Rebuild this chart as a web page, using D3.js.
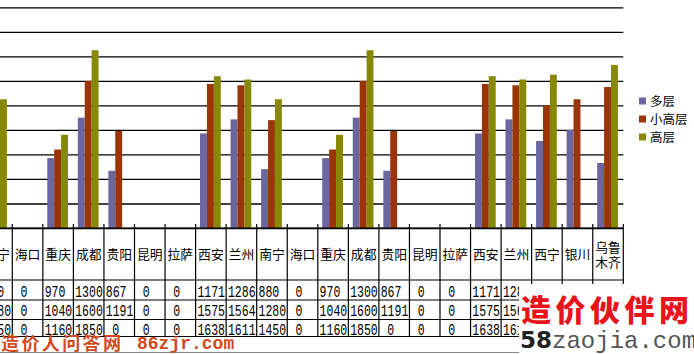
<!DOCTYPE html>
<html>
<head>
<meta charset="utf-8">
<script src="https://cdn.jsdelivr.net/npm/d3@7"></script>
<style>
body { margin: 0; background: #fff; }
svg { display: block; }
</style>
</head>
<body>
<svg width="694" height="354"></svg>
<script>
// data (left column is cut off)
const cities = ["南宁", "海口", "重庆", "成都", "贵阳", "昆明", "拉萨", "西安", "兰州",
                "南宁", "海口", "重庆", "成都", "贵阳", "昆明", "拉萨", "西安", "兰州",
                "西宁", "银川", "乌鲁木齐"];
const seriesNames = ["多层", "小高层", "高层"];
const duoceng     = [880, 0, 970, 1300, 867, 0, 0, 1171, 1286, 880, 0, 970, 1300, 867, 0, 0, 1171, 1286, 1110, 1200, 930];
const xiaogaoceng = [1280, 0, 1040, 1600, 1191, 0, 0, 1575, 1564, 1280, 0, 1040, 1600, 1191, 0, 0, 1575, 1564, 1400, 1450, 1550];
const gaoceng     = [1450, 0, 1160, 1850, 0, 0, 0, 1638, 1611, 1450, 0, 1160, 1850, 0, 0, 0, 1638, 1611, 1650, 0, 1730];
const yTicks = [400, 600, 800, 1000, 1200, 1400, 1600, 1800, 2000, 2200];

const colors = ["#6b679e", "#993508", "#878708"];
const seriesValues = [duoceng, xiaogaoceng, gaoceng];

const svg = d3.select("svg");

const plotRight = 623.3, plotBottom = 228;

const y = d3.scaleLinear()
    .domain([400, 2200])
    .range([plotBottom, 7.3]);

const x0 = d3.scaleBand()
    .domain(d3.range(cities.length))
    .range([-18.25, plotRight]);

const x1 = d3.scaleBand()
    .domain(seriesNames)
    .range([0, x0.bandwidth()])
    .paddingOuter(0.71)
    .align(0.45);

// horizontal gridlines
const grid = svg.append("g")
    .call(d3.axisLeft(y).tickValues(yTicks).tickSize(-plotRight).tickFormat(""));
grid.select(".domain").remove();
grid.selectAll(".tick line").attr("stroke", "#000").attr("stroke-width", 1.3);

// bars
const groups = svg.selectAll(".city")
    .data(cities)
    .enter().append("g")
    .attr("class", "city")
    .attr("transform", function(d, i) { return "translate(" + x0(i) + ",0)"; });

groups.selectAll("rect")
    .data(function(d, i) {
        return seriesNames.map(function(s, k) { return {key: s, value: seriesValues[k][i], color: colors[k]}; });
    })
    .enter().append("rect")
    .filter(function(d) { return d.value > 400; })
    .attr("x", function(d) { return x1(d.key); })
    .attr("width", x1.bandwidth())
    .attr("y", function(d) { return y(d.value); })
    .attr("height", function(d) { return plotBottom - y(d.value); })
    .attr("fill", function(d) { return d.color; });

// data table
const rowLines = [228, 280, 300, 319.5, 336.5];
const rowBase = [296.5, 316, 335];
const colEdges = d3.range(cities.length + 1).map(function(i) { return x0.range()[0] + i * x0.step(); });

const table = svg.append("g");
table.selectAll(".hline")
    .data(rowLines)
    .enter().append("line")
    .attr("x1", 0).attr("x2", plotRight)
    .attr("y1", function(d) { return d; }).attr("y2", function(d) { return d; })
    .attr("stroke", "#000").attr("stroke-width", 1.2);
table.selectAll(".vline")
    .data(colEdges)
    .enter().append("line")
    .attr("x1", function(d) { return d; }).attr("x2", function(d) { return d; })
    .attr("y1", 224).attr("y2", rowLines[rowLines.length - 1])
    .attr("stroke", "#000").attr("stroke-width", 1.2);

const headers = table.selectAll(".head")
    .data(cities)
    .enter().append("text")
    .attr("x", function(d, i) { return x0(i) + x0.bandwidth() / 2; })
    .attr("text-anchor", "middle")
    .attr("font-family", "Noto Sans CJK SC")
    .attr("font-size", "12.8px")
    .attr("fill", "#000");
headers.each(function(d) {
    const t = d3.select(this);
    if (d.length > 2) {
        t.append("tspan").attr("x", t.attr("x")).attr("y", 251.5).text(d.slice(0, 2));
        t.append("tspan").attr("x", t.attr("x")).attr("y", 267).text(d.slice(2));
    } else {
        t.attr("y", 258.5).text(d);
    }
});

// digits are tall and narrow in the picture, so stretch them a bit
seriesValues.forEach(function(vals, k) {
    const row = table.append("g")
        .attr("transform", "translate(0," + rowBase[k] + ") scale(1,1.4)");
    row.selectAll("text")
        .data(vals)
        .enter().append("text")
        .attr("x", function(d, i) { return d === 0 ? x0(i) + x0.bandwidth() / 2 - 3.5 : x0(i) + 1.8; })
        .attr("y", 0)
        .attr("text-anchor", function(d) { return d === 0 ? "middle" : "start"; })
        .attr("font-family", "Liberation Mono")
        .attr("font-size", "11.5px")
        .attr("fill", "#000")
        .text(function(d) { return d; });
});

// legend
const legend = svg.selectAll(".legend")
    .data(seriesNames)
    .enter().append("g")
    .attr("transform", function(d, i) { return "translate(639," + (101 + i * 18) + ")"; });
legend.append("rect")
    .attr("x", 0).attr("y", -3.5)
    .attr("width", 7).attr("height", 7)
    .attr("fill", function(d, i) { return colors[i]; });
legend.append("text")
    .attr("x", 11).attr("y", 4.5)
    .attr("font-family", "Noto Sans CJK SC")
    .attr("font-size", "12.5px")
    .attr("fill", "#000")
    .text(function(d) { return d; });

// watermarks baked into the picture
svg.append("line")
    .attr("x1", 0).attr("x2", 520).attr("y1", 352.5).attr("y2", 352.5)
    .attr("stroke", "#888").attr("stroke-width", 1);
svg.append("text")
    .attr("x", 1).attr("y", 350)
    .attr("font-family", "Noto Sans CJK SC")
    .attr("font-weight", "bold")
    .attr("font-size", "18px")
    .attr("letter-spacing", "2.4px")
    .attr("fill", "#cf4a20")
    .text("造价人问答网");
svg.append("text")
    .attr("x", 137).attr("y", 349)
    .attr("font-family", "Liberation Mono")
    .attr("font-weight", "bold")
    .attr("font-size", "18px")
    .attr("fill", "#cf4a20")
    .text("86zjr.com");

svg.append("rect")
    .attr("x", 519).attr("y", 284)
    .attr("width", 175).attr("height", 70)
    .attr("fill", "#fff");
svg.append("text")
    .attr("x", 521).attr("y", 321)
    .attr("font-family", "Noto Sans CJK SC")
    .attr("font-weight", "900")
    .attr("font-size", "30px")
    .attr("letter-spacing", "4.5px")
    .attr("fill", "#e8141c")
    .text("造价伙伴网");
const site = svg.append("text")
    .attr("x", 520).attr("y", 348)
    .attr("font-size", "23px");
site.append("tspan")
    .attr("font-family", "DejaVu Sans")
    .attr("font-weight", "bold")
    .attr("fill", "#222")
    .text("58");
site.append("tspan")
    .attr("font-family", "Liberation Mono")
    .attr("font-size", "24px")
    .attr("fill", "#555")
    .text("zaojia.com");
</script>
</body>
</html>
